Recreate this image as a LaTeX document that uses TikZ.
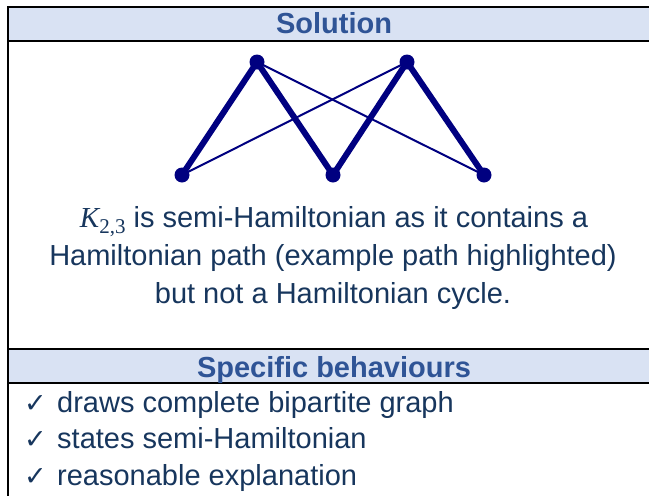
\documentclass[tikz,border=0pt]{standalone}
\usepackage{fontspec}
\setmainfont{Liberation Sans}
\newfontfamily\tickfont{DejaVu Sans}
\newfontfamily\kfont{Liberation Serif}
\definecolor{headfill}{RGB}{217,226,243}
\definecolor{headtext}{RGB}{47,84,150}
\definecolor{bodytext}{RGB}{23,54,93}
\definecolor{graphblue}{RGB}{0,0,128}
\newcommand{\Kgraph}{{\kfont\itshape K}\raisebox{-0.22em}{\kfont\fontsize{21}{21}\selectfont 2,3}}
\tikzset{
  heading/.style={anchor=base, text=headtext, font=\fontsize{29}{33}\selectfont\bfseries, inner sep=0pt},
  bodyline/.style={anchor=base, text=bodytext, font=\fontsize{29}{33}\selectfont, inner sep=0pt},
  itemline/.style={anchor=base west, text=bodytext, font=\fontsize{29}{33}\selectfont, inner sep=0pt},
  tick/.style={anchor=base west, text=bodytext, font=\tickfont\fontsize{27}{31}\selectfont, inner sep=0pt},
  thinedge/.style={graphblue, line width=2pt},
  pathedge/.style={graphblue, line width=6pt, line cap=round},
  rule/.style={black, line width=2pt}
}
\begin{document}
\begin{tikzpicture}[x=1pt, y=-1pt]
\useasboundingbox (0,0) rectangle (649,496);
% header bands
\fill[headfill] (8,7) rectangle (649,41);
\fill[headfill] (8,349) rectangle (649,383);
\draw[rule] (8,7) -- (649,7);
\draw[rule] (8,41) -- (649,41);
\draw[rule] (8,349) -- (649,349);
\draw[rule] (8,383) -- (649,383);
\draw[rule] (8,6) -- (8,496);
\node[heading] (sol) at (334,33) {Solution};
\node[heading] (spec) at (334,377) {Specific behaviours};
% the graph K_{2,3}
\coordinate (t1) at (257,62);
\coordinate (t2) at (407,62);
\coordinate (b1) at (182,175);
\coordinate (b2) at (333,175);
\coordinate (b3) at (484,175);
\draw[thinedge] (t1) -- (b3);
\draw[thinedge] (t2) -- (b1);
\draw[pathedge] (b1) -- (t1) -- (b2) -- (t2) -- (b3);
\foreach \v in {t1,t2,b1,b2,b3}
  \fill[graphblue] (\v) circle(7.5pt);
% explanation
\node[bodyline] (line1) at (334,227) {\Kgraph{} is semi-Hamiltonian as it contains a};
\node[bodyline] (line2) at (333,265) {Hamiltonian path (example path highlighted)};
\node[bodyline] (line3) at (333,303) {but not a Hamiltonian cycle.};
% behaviours
\node[tick] (c1) at (24,412) {✓};
\node[tick] (c2) at (24,448) {✓};
\node[tick] (c3) at (24,485) {✓};
\node[itemline] (i1) at (57,412) {draws complete bipartite graph};
\node[itemline] (i2) at (57,448) {states semi-Hamiltonian};
\node[itemline] (i3) at (57,485) {reasonable explanation};
\end{tikzpicture}
\end{document}
